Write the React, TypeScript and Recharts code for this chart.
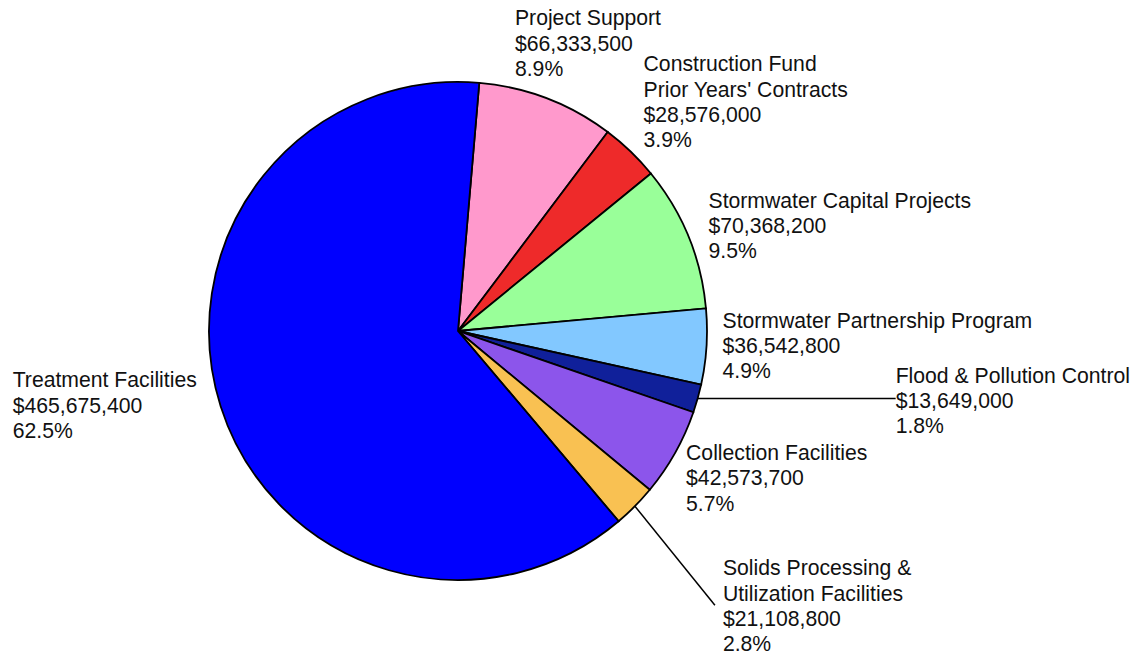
import { PieChart, Pie, Cell } from 'recharts'

// clockwise from just right of 12 o'clock
const names = [
  'Project Support',
  "Construction Fund\nPrior Years' Contracts",
  'Stormwater Capital Projects',
  'Stormwater Partnership Program',
  'Flood & Pollution Control',
  'Collection Facilities',
  'Solids Processing &\nUtilization Facilities',
  'Treatment Facilities',
]
const amounts = [66333500, 28576000, 70368200, 36542800, 13649000, 42573700, 21108800, 465675400]
// percentages as printed in the source (its own rounding)
const shares = ['8.9%', '3.9%', '9.5%', '4.9%', '1.8%', '5.7%', '2.8%', '62.5%']
const colors = ['#ff99cc', '#ee2a2a', '#99ff99', '#82c8ff', '#10209a', '#8c55eb', '#f9c152', '#0000ff']

// label placement relative to the slice's outer midpoint
const labelOffsets = [
  [-32, -73],
  [13, -80],
  [20, -29],
  [16, -19],
  [198, -16],
  [11, 7],
  [88, 69],
  [-208, -19],
]
// leader lines (end point relative to outer midpoint), only where the source draws one
const leaders: Record<number, [number, number]> = {
  4: [198, 0],
  6: [80, 99],
}

const data = names.map((name, i) => ({ name, value: amounts[i], share: shares[i] }))

const RADIAN = Math.PI / 180
const LINE_H = 25.3

const money = (v: number) => '$' + v.toLocaleString('en-US')

function renderLabel(props: any) {
  const { cx, cy, midAngle, outerRadius, index, value, name } = props
  const mx = cx + outerRadius * Math.cos(-midAngle * RADIAN)
  const my = cy + outerRadius * Math.sin(-midAngle * RADIAN)
  const [dx, dy] = labelOffsets[index]
  const lines = [...String(name).split('\n'), money(value), data[index].share]
  const leader = leaders[index]
  return (
    <g key={`lbl-${index}`}>
      {leader && (
        <line
          x1={mx}
          y1={my}
          x2={mx + leader[0]}
          y2={my + leader[1]}
          stroke="#000"
          strokeWidth={1.5}
        />
      )}
      <text
        x={mx + dx}
        y={my + dy}
        fill="#111"
        fontSize={21.2}
        fontFamily="'Liberation Sans', Arial, sans-serif"
        textAnchor="start"
      >
        {lines.map((l, j) => (
          <tspan key={j} x={mx + dx} dy={j === 0 ? 0 : LINE_H}>
            {l}
          </tspan>
        ))}
      </text>
    </g>
  )
}

export default function App() {
  return (
    <div style={{ position: 'absolute', left: 0, top: 0, background: '#fff' }}>
      <PieChart width={1143} height={658} margin={{ top: 0, right: 0, bottom: 0, left: 0 }}>
        <Pie
          data={data}
          dataKey="value"
          nameKey="name"
          cx={458}
          cy={331}
          outerRadius={249}
          startAngle={85.1}
          endAngle={-274.9}
          stroke="#000"
          strokeWidth={1.8}
          label={renderLabel}
          labelLine={false}
          isAnimationActive={false}
        >
          {data.map((d, i) => (
            <Cell key={d.name} fill={colors[i]} />
          ))}
        </Pie>
      </PieChart>
    </div>
  )
}
